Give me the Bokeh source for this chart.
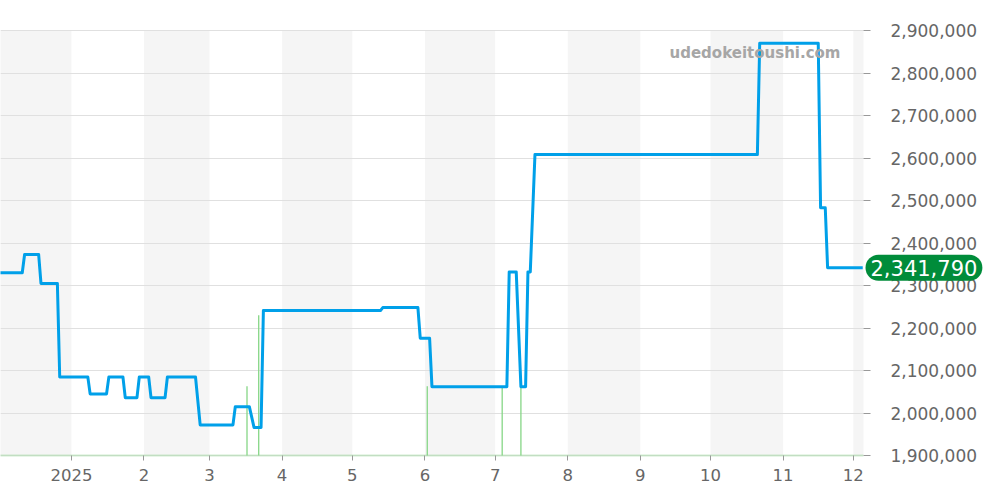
import pandas as pd
from bokeh.plotting import figure
from bokeh.models import Range1d, FixedTicker, NumeralTickFormatter, Label, Span, BoxAnnotation
from bokeh.embed import file_html
from bokeh.resources import INLINE

# ---- data ----
line_dates = ["2024-12-01", "2024-12-11", "2024-12-12", "2024-12-18", "2024-12-19", "2024-12-26",
              "2024-12-27", "2025-01-08", "2025-01-09", "2025-01-16", "2025-01-17", "2025-01-23",
              "2025-01-24", "2025-01-29", "2025-01-30", "2025-02-03", "2025-02-04", "2025-02-10",
              "2025-02-11", "2025-02-23", "2025-02-25", "2025-03-11", "2025-03-12", "2025-03-18",
              "2025-03-20", "2025-03-23", "2025-03-24", "2025-05-13", "2025-05-14", "2025-05-29",
              "2025-05-30", "2025-06-03", "2025-06-04", "2025-07-06", "2025-07-07", "2025-07-10",
              "2025-07-12", "2025-07-14", "2025-07-15", "2025-07-16", "2025-07-18", "2025-10-21",
              "2025-10-22", "2025-11-16", "2025-11-17", "2025-11-19", "2025-11-20", "2025-12-05"]
line_prices = [2330000, 2330000, 2373000, 2373000, 2305000, 2305000,
               2085000, 2085000, 2045000, 2045000, 2085000, 2085000,
               2036000, 2036000, 2085000, 2085000, 2036000, 2036000,
               2085000, 2085000, 1972000, 1972000, 2015000, 2015000,
               1966000, 1966000, 2241000, 2241000, 2248000, 2248000,
               2176000, 2176000, 2062000, 2062000, 2332000, 2332000,
               2062000, 2062000, 2332000, 2332000, 2608000, 2608000,
               2870000, 2870000, 2483000, 2483000, 2341790, 2341790]

trade_dates = ["2025-03-17", "2025-03-22", "2025-06-02", "2025-07-04", "2025-07-12"]
trade_prices = [2063000, 2230000, 2063000, 2060000, 2060000]

band_starts = ["2024-11-01", "2025-02-01", "2025-04-01", "2025-06-01", "2025-08-01", "2025-10-01", "2025-12-01"]
band_ends = ["2025-01-01", "2025-03-01", "2025-05-01", "2025-07-01", "2025-09-01", "2025-11-01", "2026-01-01"]

tick_dates = ["2025-01-01", "2025-02-01", "2025-03-01", "2025-04-01", "2025-05-01", "2025-06-01",
              "2025-07-01", "2025-08-01", "2025-09-01", "2025-10-01", "2025-11-01", "2025-12-01"]
tick_labels = ["2025", "2", "3", "4", "5", "6", "7", "8", "9", "10", "11", "12"]
y_ticks = [1900000, 2000000, 2100000, 2200000, 2300000, 2400000, 2500000, 2600000, 2700000, 2800000, 2900000]

last_price = 2341790
last_price_text = "2,341,790"
watermark = "udedokeitoushi.com"

x_start = pd.Timestamp("2024-12-01 17:00")
x_end = pd.Timestamp("2025-12-05 08:00")
y_min, y_max = 1900000, 2900000

# layout geometry (pixels): chart area 863 wide + 121 px strip for the price axis;
# price scale from y=30 (top value) to y=455 (bottom value) in a 484 px tall canvas
chart_px, axis_px = 863, 121
canvas_h, top_px, bottom_px = 484, 30, 455
x_far = x_end + (x_end - x_start) * (axis_px / chart_px)
per_px = (y_max - y_min) / (bottom_px - top_px)
y_view_top = y_max + top_px * per_px
y_view_bottom = y_min - (canvas_h - bottom_px) * per_px


def ms(d):
    return pd.Timestamp(d).value // 10**6


p = figure(x_axis_type="datetime", y_axis_location="right",
           frame_width=chart_px + axis_px, frame_height=canvas_h,
           min_border_left=0, min_border_top=0, min_border_bottom=0, min_border_right=0,
           x_range=Range1d(x_start, x_far), y_range=Range1d(y_view_bottom, y_view_top),
           output_backend="svg", toolbar_location=None)
p.outline_line_color = None
p.background_fill_color = "white"
p.border_fill_color = "white"

# month bands
p.quad(left=pd.to_datetime(band_starts), right=pd.to_datetime(band_ends),
       bottom=y_min, top=y_max, fill_color="#f5f5f5", line_color=None, level="image")

# grid
p.xgrid.grid_line_color = None
p.ygrid.grid_line_color = "#e0e0e0"
p.ygrid.grid_line_width = 1

# dotted green baseline
p.add_layout(Span(location=y_min, dimension="width", line_color="#a5dca5",
                  line_width=2, line_dash="1 1", level="underlay"))

# white strip behind the price axis (hides grid/bands beyond the chart area)
p.add_layout(BoxAnnotation(left=ms(x_end), fill_color="white", fill_alpha=1.0,
                           line_color=None, level="underlay"))

# trades (green bars)
td = pd.to_datetime(trade_dates)
p.segment(x0=td, y0=[y_min] * len(td), x1=td, y1=trade_prices, line_color="#86d686", line_width=1.3)

# price line
p.line(pd.to_datetime(line_dates), line_prices, line_width=3, line_color="#00a0e9", line_join="round")

# axes
p.xaxis.fixed_location = y_min
p.xaxis.ticker = FixedTicker(ticks=[ms(d) for d in tick_dates])
p.xaxis.major_label_overrides = {ms(d): l for d, l in zip(tick_dates, tick_labels)}
p.xaxis.axis_line_color = None
p.xaxis.major_tick_line_color = "#999999"
p.xaxis.major_tick_out = 5
p.xaxis.major_tick_in = 0
p.xaxis.minor_tick_line_color = None
p.xaxis.major_label_standoff = 8
p.xaxis.major_label_text_font = "DejaVu Sans"
p.xaxis.major_label_text_font_size = "16.5px"
p.xaxis.major_label_text_color = "#666666"

p.yaxis.fixed_location = ms(x_end)
p.yaxis.ticker = FixedTicker(ticks=y_ticks)
p.yaxis.formatter = NumeralTickFormatter(format="0,0")
p.yaxis.axis_line_color = None
p.yaxis.major_tick_line_color = "#999999"
p.yaxis.major_tick_out = 7
p.yaxis.major_tick_in = 0
p.yaxis.minor_tick_line_color = None
p.yaxis.major_label_standoff = 20
p.yaxis.major_label_text_font = "DejaVu Sans"
p.yaxis.major_label_text_font_size = "17px"
p.yaxis.major_label_text_color = "#666666"

# watermark
p.add_layout(Label(x=ms("2025-11-25 12:00"), y=2847000, text=watermark,
                   text_font="DejaVu Sans", text_font_style="bold", text_font_size="15px",
                   text_color="#a6a6a6", text_align="right", text_baseline="middle"))

# last price tag
p.add_layout(Label(x=ms(x_end), y=last_price, x_offset=2, text=last_price_text,
                   text_font="DejaVu Sans", text_font_size="21px", text_color="white",
                   text_align="left", text_baseline="middle",
                   background_fill_color="#008c3a", border_radius=15, padding=5))

open("out.html", "w").write(file_html(p, INLINE))
